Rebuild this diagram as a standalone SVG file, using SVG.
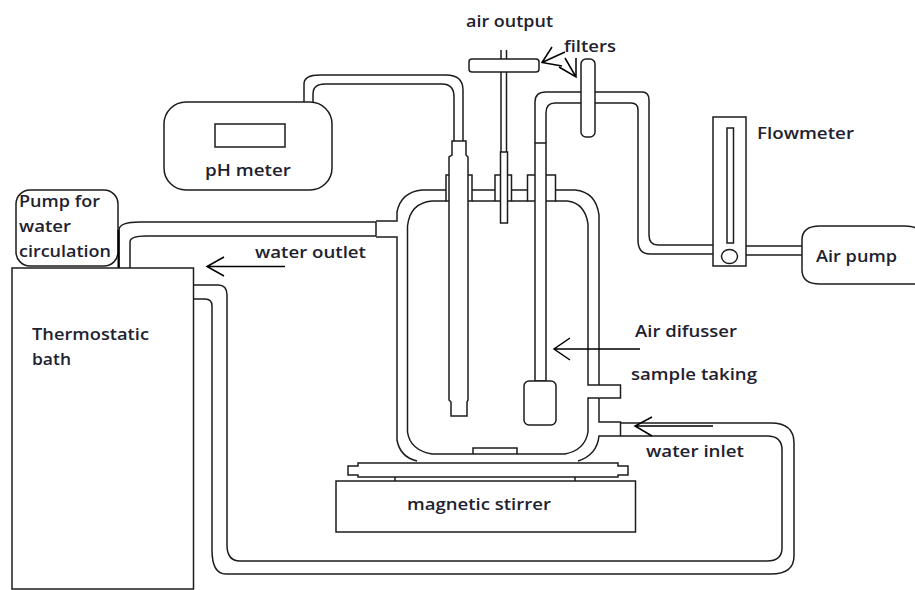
<svg xmlns="http://www.w3.org/2000/svg" width="915" height="590" viewBox="0 0 915 590">
<style>
.l{fill:none;stroke:#1c1c1c;stroke-width:1.5}
.w{fill:#fff;stroke:#1c1c1c;stroke-width:1.5}
.a{fill:none;stroke:#000;stroke-width:1.5}
text{font-family:"Open Sans","Noto Sans","Liberation Sans",sans-serif;font-weight:600;font-size:17px;fill:#1e2230}
</style>
<rect width="915" height="590" fill="#fff"/>
<g id="connectors">
<path class="l" d="M304 102V84Q304 75 320 75H446Q463 75 463 90V141"/>
<path class="l" d="M313 102V94Q313 84 325 84H442Q454 84 454 97V141"/>
<path class="l" d="M535 143V102Q535 92 546 92H581M595 92H642Q649 92 649 100V235Q649 245 658 245H713"/>
<path class="l" d="M546 143V113Q546 103 555 103H581M595 103H631Q638 103 638 110V240Q638 254 650 254H713"/>
<path class="l" d="M746 246H802M746 255H802"/>
<path class="l" d="M119 268V230Q119 222 140 222H376M130 268V242Q130 236 146 236H376M376 222V236"/>
<path class="l" d="M194 285H218Q227 285 227 295V545Q227 561 240 561H767Q782 561 782 548V450Q782 436 767 436H621M194 299H205Q212 299 212 306V550Q212 574 226 574H771Q794 574 794 556V443Q794 423 771 423H621"/>
</g>
<g id="vessel">
<path class="l" d="M446 190H422Q401 192 397 212V221H376M376 237H397V440Q400 457 417 461M446 201H432Q410 203 407.500 226V432Q410 450 432 454H565Q585 450 588 432V398H620.500V385H588V224Q585 203 567 201H555M599 385V215Q596 192 575 190H555M599 398V422H620.500V436H599Q597 455 578 461"/>
<path class="l" d="M472 190H495M511.500 190H527.500M472 201H495M511.500 201H527.500"/>
<path class="w" d="M446 201V175H472V201Z"/>
<path class="w" d="M495 201V175H511.500V201Z"/>
<path class="w" d="M527.500 201V175H555.500V201Z"/>
<path class="l" d="M473 454V448H517V454"/>
</g>
<g id="ph-electrode">
<path class="w" d="M452 141H466V155L468 157V400L467 402V416H451V402L449 400V157L452 155Z"/>
</g>
<g id="air-output-filter">
<path class="l" d="M501 152V50M506.500 152V50"/>
<path class="w" d="M500.500 152H507.500V223H500.500Z"/>
<rect class="w" x="469" y="59" width="70" height="13" rx="3"/>
</g>
<g id="air-diffuser">
<path class="w" d="M535 143H546V381H535Z"/>
<rect class="w" x="524" y="381" width="32" height="44" rx="5"/>
</g>
<g id="air-filter">
<rect class="w" x="581" y="59" width="14" height="78" rx="5"/>
</g>
<g id="ph-meter">
<rect class="w" x="164" y="102" width="168" height="88" rx="22"/>
<rect class="w" x="215" y="124" width="70" height="23"/>
<text x="205" y="176" textLength="86" lengthAdjust="spacingAndGlyphs">pH meter</text>
</g>
<g id="flowmeter">
<rect class="w" x="713" y="117" width="33" height="149"/>
<rect class="w" x="727" y="128" width="6.500" height="115"/>
<ellipse class="w" cx="729.500" cy="256.500" rx="8" ry="7"/>
<text x="757" y="139" textLength="97" lengthAdjust="spacingAndGlyphs">Flowmeter</text>
</g>
<g id="air-pump">
<path class="w" d="M802 240Q802 226 820 226H905Q915 226 918 230V284H820Q802 284 802 270Z"/>
<text x="816" y="262" textLength="81" lengthAdjust="spacingAndGlyphs">Air pump</text>
</g>
<g id="water-pump">
<rect class="w" x="16" y="190" width="102" height="76" rx="14"/>
<path d="M118.500 230V268" fill="none" stroke="#000" stroke-width="2"/>
<text x="19" y="207" textLength="81" lengthAdjust="spacingAndGlyphs">Pump for</text>
<text x="19" y="232" textLength="52" lengthAdjust="spacingAndGlyphs">water</text>
<text x="19" y="257" textLength="92" lengthAdjust="spacingAndGlyphs">circulation</text>
</g>
<g id="thermostatic-bath">
<rect class="w" x="12" y="268" width="181.500" height="321"/>
<text x="32" y="340" textLength="117" lengthAdjust="spacingAndGlyphs">Thermostatic</text>
<text x="32" y="365" textLength="39" lengthAdjust="spacingAndGlyphs">bath</text>
</g>
<g id="magnetic-stirrer">
<path class="w" d="M358 463H618V466H628V475H618V477H358V475H348V466H358Z"/>
<path class="l" d="M395 477V481M575 477V481"/>
<rect class="w" x="336" y="481" width="299.500" height="51"/>
<text x="407" y="510" textLength="144" lengthAdjust="spacingAndGlyphs">magnetic stirrer</text>
</g>
<g id="labels">
<text x="466" y="27" textLength="87" lengthAdjust="spacingAndGlyphs">air output</text>
<text x="564" y="52" textLength="52" lengthAdjust="spacingAndGlyphs">filters</text>
<text x="255" y="258" textLength="111" lengthAdjust="spacingAndGlyphs">water outlet</text>
<text x="635" y="337" textLength="102" lengthAdjust="spacingAndGlyphs">Air difusser</text>
<text x="631" y="380" textLength="126" lengthAdjust="spacingAndGlyphs">sample taking</text>
<text x="646" y="457" textLength="98" lengthAdjust="spacingAndGlyphs">water inlet</text>
</g>
<g id="arrows">
<path class="a" d="M285 266.500H207M224 257L207 266.500L224 276"/>
<path class="a" d="M640 349H554M570 338L554 349L570 360"/>
<path class="a" d="M713 426H635M652 417L635 426L652 436" stroke-width="2"/>
<path class="a" d="M565 52L542 62.500M552 47L542 62.500L562 66"/>
<path class="a" d="M565 58L576 77M576 58V77L559 67"/>
</g>
</svg>
